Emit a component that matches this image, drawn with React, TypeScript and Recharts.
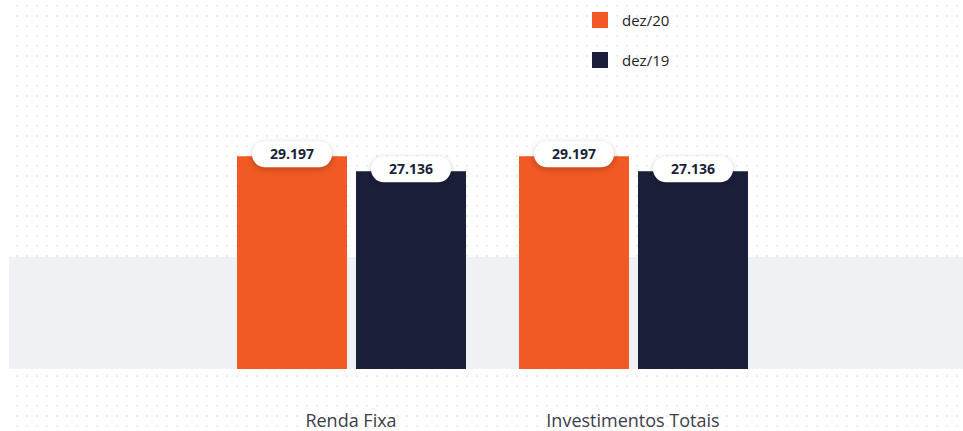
import { BarChart, Bar, XAxis, YAxis, LabelList } from 'recharts';

const categories = ['Renda Fixa', 'Investimentos Totais'];
const dez20 = [29197, 29197];
const dez19 = [27136, 27136];
const seriesNames = ['dez/20', 'dez/19'];

const ORANGE = '#F15A24';
const NAVY = '#1A1F3A';
const FONT = '"Open Sans", "Noto Sans", sans-serif';

const data = categories.map((name, i) => ({ name, dez20: dez20[i], dez19: dez19[i] }));

// 29197 -> "29.197"
const fmt = (v: number) => String(v).replace(/\B(?=(\d{3})+(?!\d))/g, '.');

const dotBg =
  "url(\"data:image/svg+xml;utf8,<svg xmlns='http://www.w3.org/2000/svg' width='10' height='10'><rect width='2' height='2' fill='%23ededed'/></svg>\")";

const Pill = (props: any) => {
  const { x, y, width, value } = props;
  const cx = x + width / 2;
  const w = 80;
  const h = 26;
  return (
    <g>
      <rect
        x={cx - w / 2}
        y={y - 15}
        width={w}
        height={h}
        rx={13}
        fill="#fff"
        style={{ filter: 'drop-shadow(0px 2px 3px rgba(0,0,0,0.22))' }}
      />
      <text
        x={cx}
        y={y - 15 + h / 2}
        dy="0.35em"
        textAnchor="middle"
        fontFamily={FONT}
        fontWeight={700}
        fontSize={14}
        fill={NAVY}
      >
        {fmt(value)}
      </text>
    </g>
  );
};

const Tick = (props: any) => {
  const { x, y, payload } = props;
  return (
    <text x={x} y={y + 52} dy="0.35em" textAnchor="middle" fontFamily={FONT} fontSize={18} fill="#3d3d4a">
      {payload.value}
    </text>
  );
};

export default function App() {
  return (
    <div style={{ position: 'absolute', left: 0, top: 0, width: 963, height: 431, background: '#fff', overflow: 'hidden' }}>
      <div
        style={{
          position: 'absolute',
          left: 16,
          top: 5,
          right: 0,
          bottom: 0,
          backgroundImage: dotBg,
          backgroundRepeat: 'repeat',
        }}
      />
      <div style={{ position: 'absolute', left: 9, top: 257, width: 954, height: 112, background: '#EFF1F5' }} />
      {/* legend */}
      <div style={{ position: 'absolute', left: 592, top: 11, fontFamily: FONT, fontSize: 15, color: '#222' }}>
        {seriesNames.map((s, i) => (
          <div key={s} style={{ display: 'flex', alignItems: 'center', height: 17, marginBottom: i === 0 ? 23 : 0 }}>
            <span style={{ width: 16, height: 16, background: i === 0 ? ORANGE : NAVY, display: 'inline-block' }} />
            <span style={{ marginLeft: 14 }}>{s}</span>
          </div>
        ))}
      </div>
      <div style={{ position: 'absolute', left: 0, top: 0 }}>
        <BarChart
          width={963}
          height={431}
          data={data}
          margin={{ top: 114, right: 189, left: 210, bottom: 0 }}
          barSize={110}
          barGap={9}
        >
          <YAxis hide domain={[0, 35000]} />
          <XAxis dataKey="name" axisLine={false} tickLine={false} tickSize={0} tickMargin={0} height={62} tick={<Tick />} />
          <Bar dataKey="dez20" name={seriesNames[0]} fill={ORANGE} isAnimationActive={false}>
            <LabelList dataKey="dez20" content={<Pill />} />
          </Bar>
          <Bar dataKey="dez19" name={seriesNames[1]} fill={NAVY} isAnimationActive={false}>
            <LabelList dataKey="dez19" content={<Pill />} />
          </Bar>
        </BarChart>
      </div>
    </div>
  );
}
